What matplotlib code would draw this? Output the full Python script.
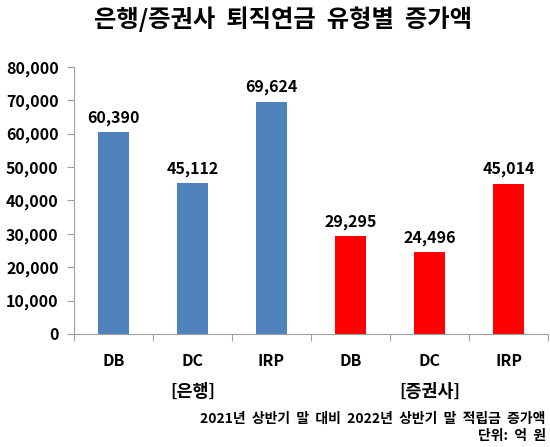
import matplotlib
matplotlib.use("Agg")
import matplotlib.pyplot as plt
import numpy as np

plt.rcParams['font.family'] = ['Noto Sans CJK KR', 'DejaVu Sans']

title = "은행/증권사  퇴직연금  유형별  증가액"
categories = ["DB", "DC", "IRP", "DB", "DC", "IRP"]
values = [60390, 45112, 69624, 29295, 24496, 45014]
colors_list = ["#4F81BD", "#4F81BD", "#4F81BD", "#FF0000", "#FF0000", "#FF0000"]
groups = ["[은행]", "[증권사]"]
group_centers = [1, 4]
note1 = "2021년  상반기  말  대비  2022년  상반기  말  적립금  증가액"
note2 = "단위:  억  원"
yticks = [0, 10000, 20000, 30000, 40000, 50000, 60000, 70000, 80000]

fig = plt.figure(figsize=(5.5, 4.47), dpi=100)
ax = fig.add_axes([0.1345, 0.253, 0.862, 0.597])
x = np.arange(len(categories))
ax.bar(x, values, width=0.4, color=colors_list, zorder=2)
for xi, v in zip(x, values):
    ax.text(xi, v + 2000, f"{v:,}", ha='center', va='bottom', fontsize=11.5, fontweight='bold')

ax.set_xlim(-0.5, len(categories) - 0.5)
ax.set_ylim(0, 80000)
ax.set_yticks(yticks)
ax.set_yticklabels([f"{t:,}" for t in yticks], fontsize=11.5, fontweight='bold')
ax.set_xticks(x)
ax.set_xticklabels(categories, fontsize=11.5, fontweight='bold')
ax.set_xticks(np.arange(-0.5, len(categories), 1), minor=True)
ax.tick_params(axis='x', which='major', length=0, pad=14)
ax.tick_params(axis='x', which='minor', length=5, color='#A0A0A0', width=0.8)
ax.tick_params(axis='y', length=5, color='#A0A0A0', width=0.8, pad=6)
for s in ['top', 'right']:
    ax.spines[s].set_visible(False)
for s in ['left', 'bottom']:
    ax.spines[s].set_color('#A0A0A0')
    ax.spines[s].set_linewidth(0.8)

for g, c in zip(groups, group_centers):
    ax.annotate(g, xy=(c, 0), xycoords=('data', 'axes fraction'), xytext=(0, -42),
                textcoords='offset points', ha='center', va='center', fontsize=12.5, fontweight='bold')

fig.text(0.515, 0.957, title, ha='center', va='center', fontsize=17.5, fontweight='bold')
fig.text(0.992, 0.063, note1, ha='right', va='center', fontsize=10, fontweight='bold')
fig.text(0.992, 0.025, note2, ha='right', va='center', fontsize=10, fontweight='bold')

fig.savefig("out.png", dpi=100)
